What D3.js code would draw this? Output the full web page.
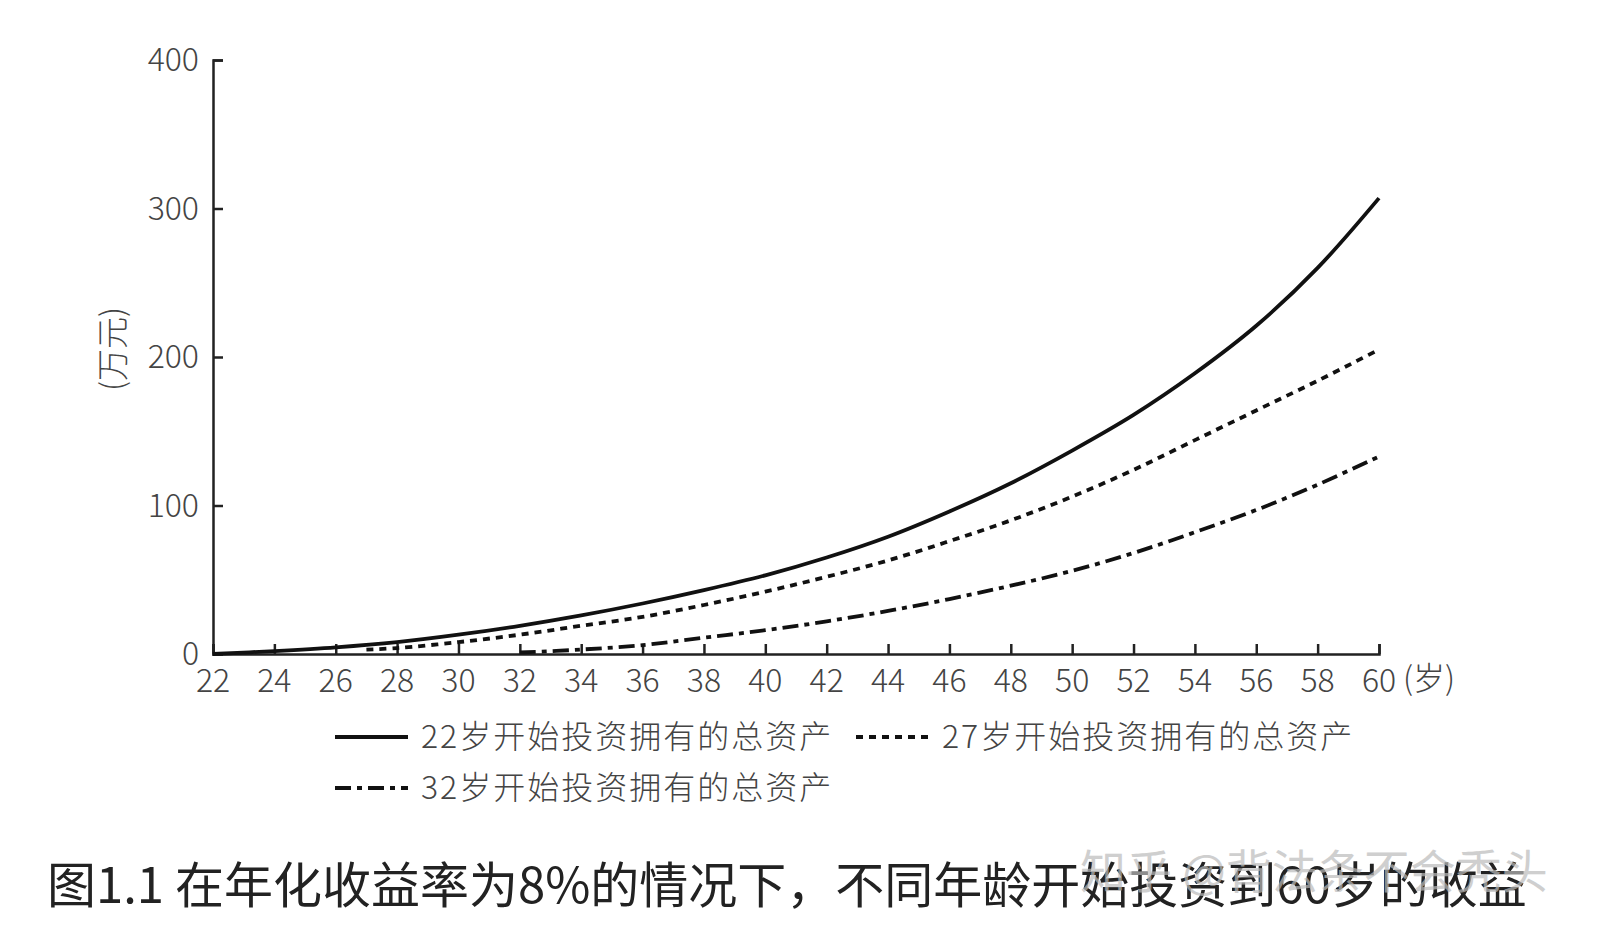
<!DOCTYPE html>
<html><head><meta charset="utf-8">
<script src="https://cdn.jsdelivr.net/npm/d3@7"></script>
<style>body{margin:0;background:#fff}text{font-family:"Noto Sans CJK SC","Noto Sans",sans-serif}</style>
</head><body><svg width="1624" height="936"></svg>
<script>
var ages = [22,24,26,28,30,32,34,36,38,40,42,44,46,48,50,52,54,56,58,60];
var s22 = [0,2,4.5,8,13,19,26,34,43,53,65,79,96,115,137,161,189,221,260,307];
var agesB = [27,28,30,32,34,36,38,40,42,44,46,48,50,52,54,56,58,60];
var s27 = [3,4,8,13,19,25,33,42,52,63,76,90,106,124,144,164,184,205];
var agesC = [32,34,36,38,40,42,44,46,48,50,52,54,56,58,60];
var s32 = [1,3,6,11,16,22,29,37,46,56,68,82,97,114,133];
var yTicks = [0,100,200,300,400];
var xTicks = ages;
var series = [
  {name:'22岁开始投资拥有的总资产', x:ages, y:s22, dash:null},
  {name:'27岁开始投资拥有的总资产', x:agesB, y:s27, dash:'7,6'},
  {name:'32岁开始投资拥有的总资产', x:agesC, y:s32, dash:'16,6,5,6'}
];

var svg = d3.select('svg');
var x = d3.scaleLinear().domain([22,60]).range([213,1379]);
var y = d3.scaleLinear().domain([0,400]).range([654,60]);

svg.append('g').attr('transform','translate(213,0)')
  .call(d3.axisRight(y).tickValues(yTicks).tickSize(10).tickFormat(''));
svg.append('g').attr('transform','translate(0,654)')
  .call(d3.axisTop(x).tickValues(xTicks).tickSize(10).tickFormat(''));
svg.selectAll('.domain,.tick line').attr('stroke','#222').attr('stroke-width',2.5);

svg.selectAll('.ylab').data(yTicks).enter().append('text')
  .attr('x',199).attr('y',d=>y(d)+11).attr('text-anchor','end')
  .attr('font-size',32).attr('font-weight',300).attr('fill','#444').text(d=>d);
svg.selectAll('.xlab').data(xTicks).enter().append('text')
  .attr('x',d=>x(d)).attr('y',692).attr('text-anchor','middle')
  .attr('font-size',32).attr('font-weight',300).attr('fill','#444').text(d=>d);
svg.append('text').attr('x',1403).attr('y',690).attr('font-size',32).attr('font-weight',300).attr('fill','#444').text('(岁)');
svg.append('text').attr('transform','translate(124,349) rotate(-90)').attr('text-anchor','middle')
  .attr('font-size',32).attr('font-weight',300).attr('fill','#444').text('(万元)');

var line = d3.line().x(d=>x(d[0])).y(d=>y(d[1])).curve(d3.curveCatmullRom);
series.forEach(function(s){
  svg.append('path').attr('d',line(d3.zip(s.x,s.y))).attr('fill','none')
    .attr('stroke','#111').attr('stroke-width',3.8).attr('stroke-dasharray',s.dash);
});

var legPos = [[335,737],[856,737],[335,788]];
series.forEach(function(s,i){
  var p = legPos[i];
  svg.append('line').attr('x1',p[0]).attr('x2',p[0]+73).attr('y1',p[1]).attr('y2',p[1])
    .attr('stroke','#111').attr('stroke-width',4).attr('stroke-dasharray',s.dash);
  svg.append('text').attr('x',p[0]+86).attr('y',p[1]+11).attr('font-size',32).attr('font-weight',300)
    .attr('fill','#444').attr('letter-spacing',2).text(s.name);
});

svg.append('text').attr('x',47).attr('y',903).attr('font-size',49).attr('fill','#222')
  .text('图1.1 在年化收益率为8%的情况下，不同年龄开始投资到60岁的收益');
svg.append('text').attr('x',1080).attr('y',888).attr('font-size',46).attr('fill','#bbb').attr('opacity',0.7)
  .text('知乎 @背法条不会秃头');
</script></body></html>
